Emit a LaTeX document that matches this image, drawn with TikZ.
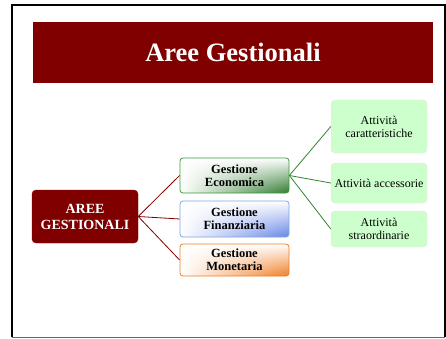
\documentclass[tikz,border=0pt]{standalone}
\usepackage{fontspec}
\setmainfont{Liberation Serif}
\usetikzlibrary{shadings}
\definecolor{darkred}{HTML}{800000}
\definecolor{ecogreen}{HTML}{3A9A3A}
\definecolor{finblue}{HTML}{7EA6E0}
\definecolor{monorange}{HTML}{F07D24}
\definecolor{actgreen}{HTML}{CCFFCC}
\tikzset{
  areabox/.style={draw=darkred, fill=darkred, rounded corners=4pt, text=white,
    align=center, inner sep=0pt, font=\fontsize{14}{16}\selectfont\bfseries},
  gestbox/.style={rounded corners=3pt, line width=0.8pt, align=center, inner sep=0pt,
    minimum width=109pt, font=\fontsize{12.5}{13}\selectfont\bfseries,
    upper left=white, upper right=white, lower left=white},
  actbox/.style={draw=black!10, fill=actgreen, rounded corners=4pt, align=center,
    inner sep=0pt, minimum width=96pt, font=\fontsize{12}{13}\selectfont},
}
\begin{document}
\begin{tikzpicture}[x=1pt, y=-1pt]
  \useasboundingbox (0,0) rectangle (446,339);
  % Frame
  \draw[line width=2pt] (12,337) -- (12,5) -- (445,5) -- (445,337);
  \draw[black!60, line width=1pt] (12,337) -- (445,337);

  % Nodes
  \node[fill=darkred, text=white, minimum width=400pt, minimum height=61pt, inner sep=0pt,
    font=\fontsize{26.5}{28}\selectfont\bfseries] (title) at (233,52.5) {Aree Gestionali};
  \node[areabox, minimum width=106pt, minimum height=53pt] (aree) at (85,216.5) {AREE\\GESTIONALI};
  \node[gestbox, draw=ecogreen, lower right=ecogreen!80!black, minimum height=35pt] (eco) at (234.5,175.5) {Gestione\\Economica};
  \node[gestbox, draw=finblue, lower right=finblue!80!blue, minimum height=36pt] (fin) at (234.5,219) {Gestione\\Finanziaria};
  \node[gestbox, draw=monorange, lower right=monorange, minimum height=32pt] (mon) at (234.5,260) {Gestione\\Monetaria};
  \node[actbox, minimum height=53pt] (car) at (379,126.5) {Attività\\caratteristiche};
  \node[actbox, minimum height=40pt] (acc) at (379,183) {Attività accessorie};
  \node[actbox, minimum height=36pt] (str) at (379,229) {Attività\\straordinarie};

  % Connectors
  \draw[darkred, line width=0.8pt] (aree.east) -- (eco.west);
  \draw[darkred, line width=0.8pt] (aree.east) -- (fin.west);
  \draw[darkred, line width=0.8pt] (aree.east) -- (mon.west);
  \draw[ecogreen!85!black, line width=0.8pt] (eco.east) -- (car.west);
  \draw[ecogreen!85!black, line width=0.8pt] (eco.east) -- (acc.west);
  \draw[ecogreen!85!black, line width=0.8pt] (eco.east) -- (str.west);
\end{tikzpicture}
\end{document}
